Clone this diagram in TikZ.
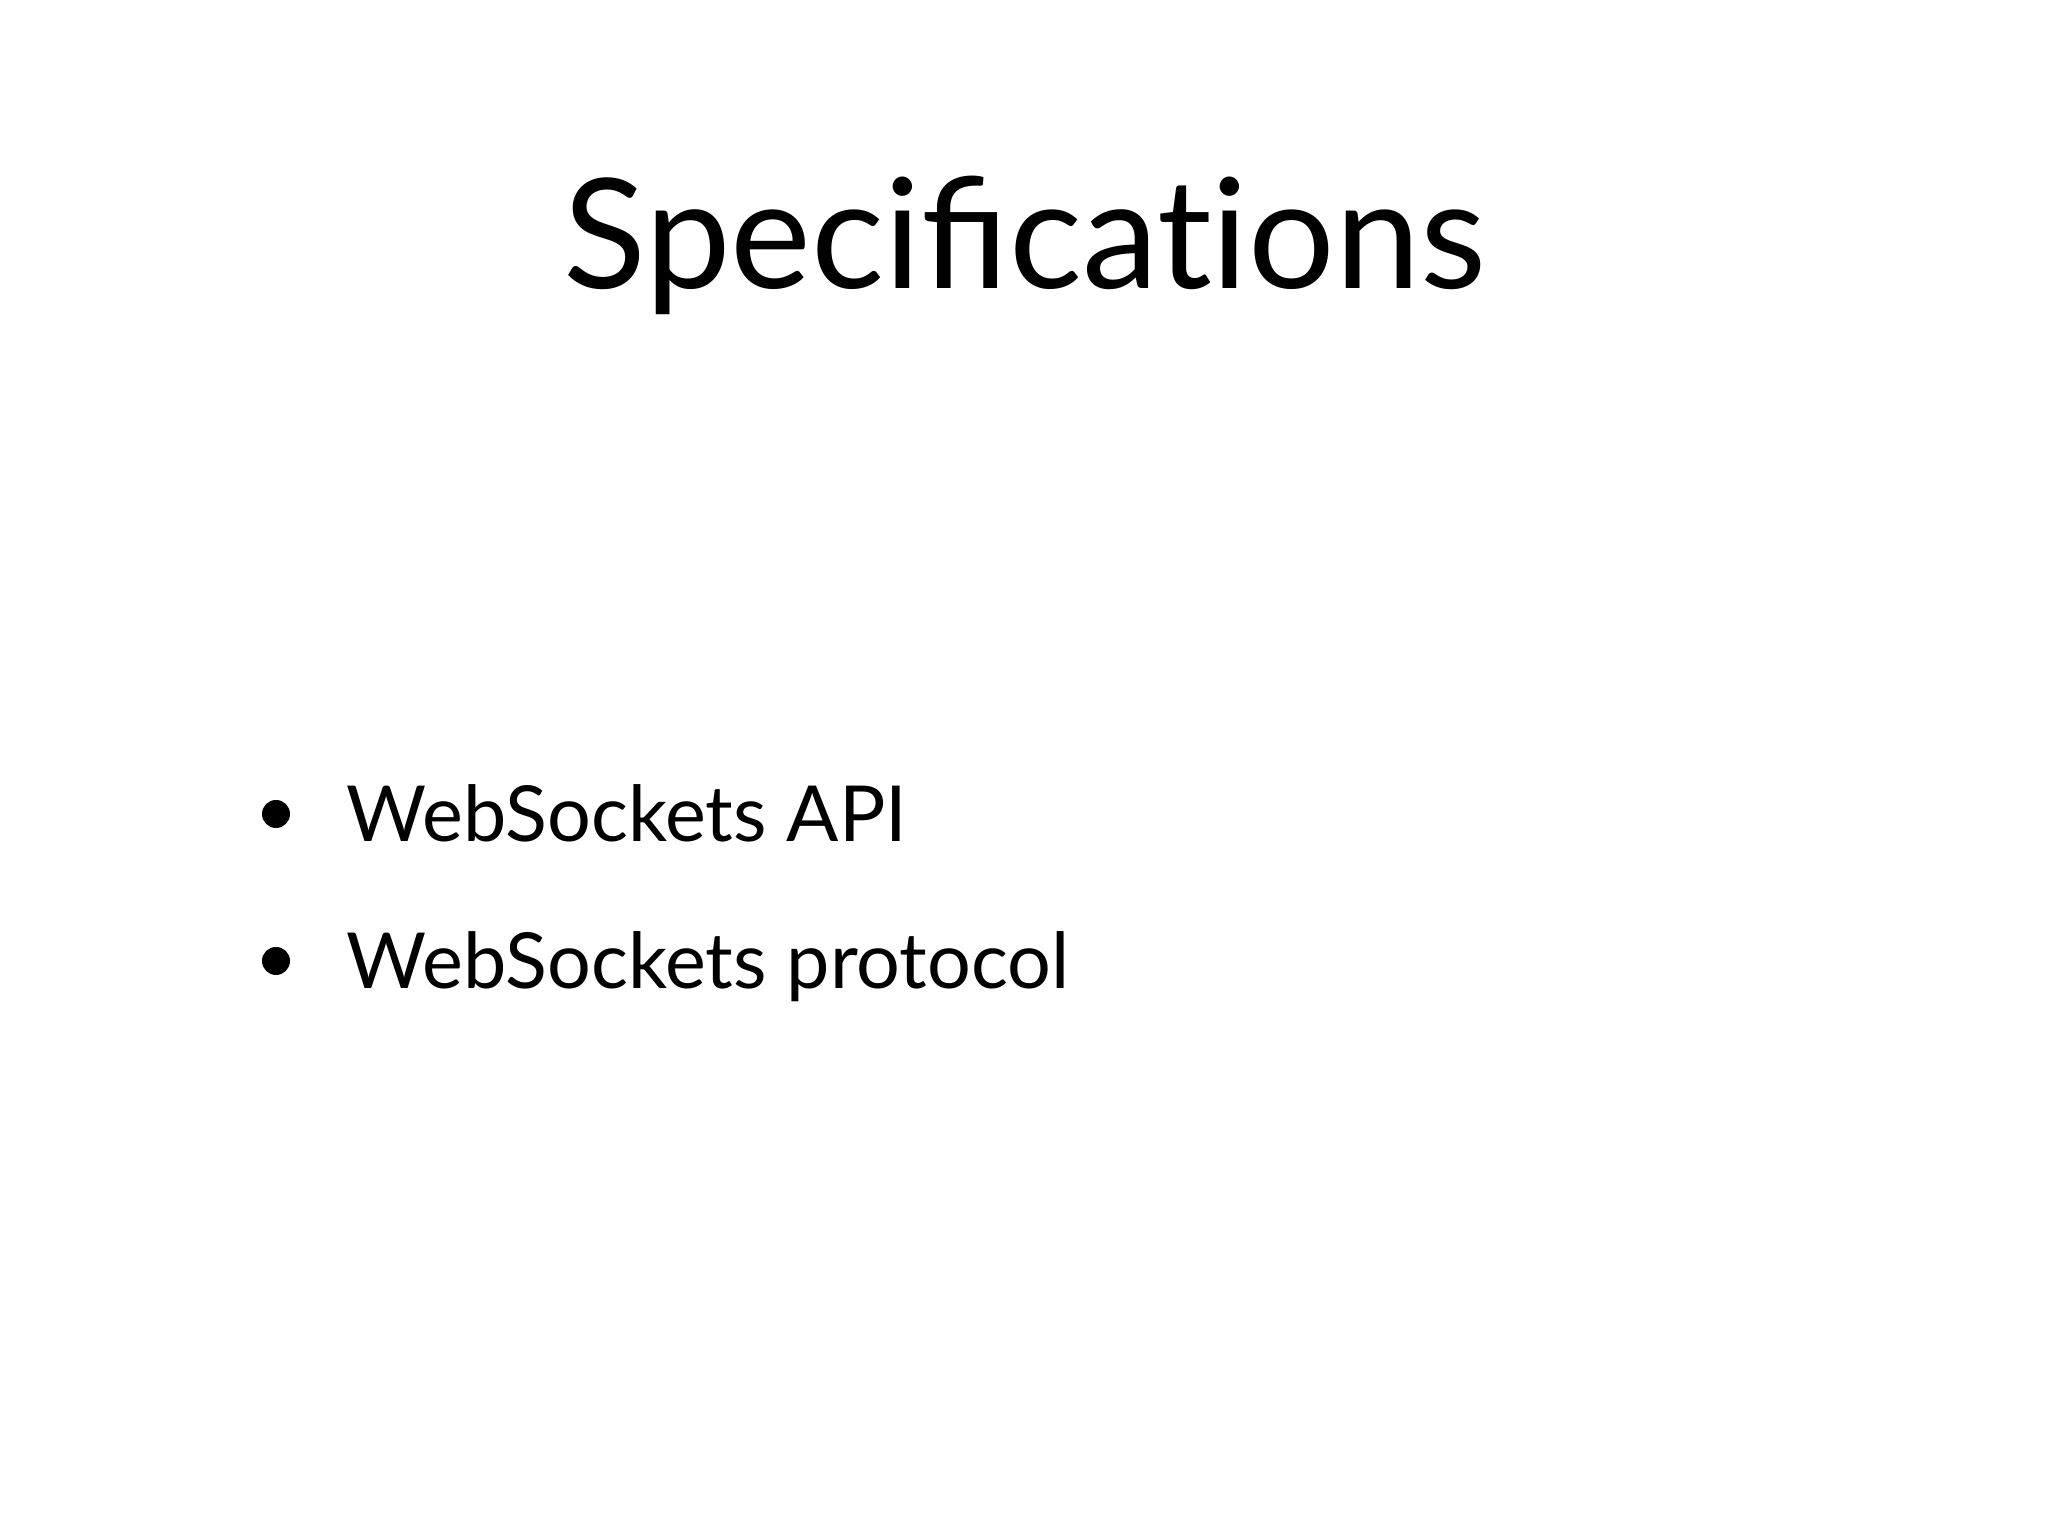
\documentclass[tikz,border=0pt]{standalone}
\usepackage{fontspec}
\setmainfont{Lato}
\begin{document}
\begin{tikzpicture}
\tikzset{item/.style={anchor=base west,inner sep=0pt,font=\fontsize{22}{26}\selectfont},
bul/.style={circle,fill=black,inner sep=0pt,minimum size=0.28cm}}
\useasboundingbox (0,0) rectangle (20.48,15.36);
\node[anchor=base,inner sep=0pt,font=\fontsize{43.5}{52}\selectfont] (title) at (10.25,12.47) {Specifica{t\kern0pt i}ons};
\node[item] (i1) at (3.46,6.94) {WebSockets API};
\node[item] (i2) at (3.46,5.47) {WebSockets protocol};
\node[bul] (b1) at (2.76,7.22) {};
\node[bul] (b2) at (2.76,5.75) {};
\end{tikzpicture}
\end{document}
